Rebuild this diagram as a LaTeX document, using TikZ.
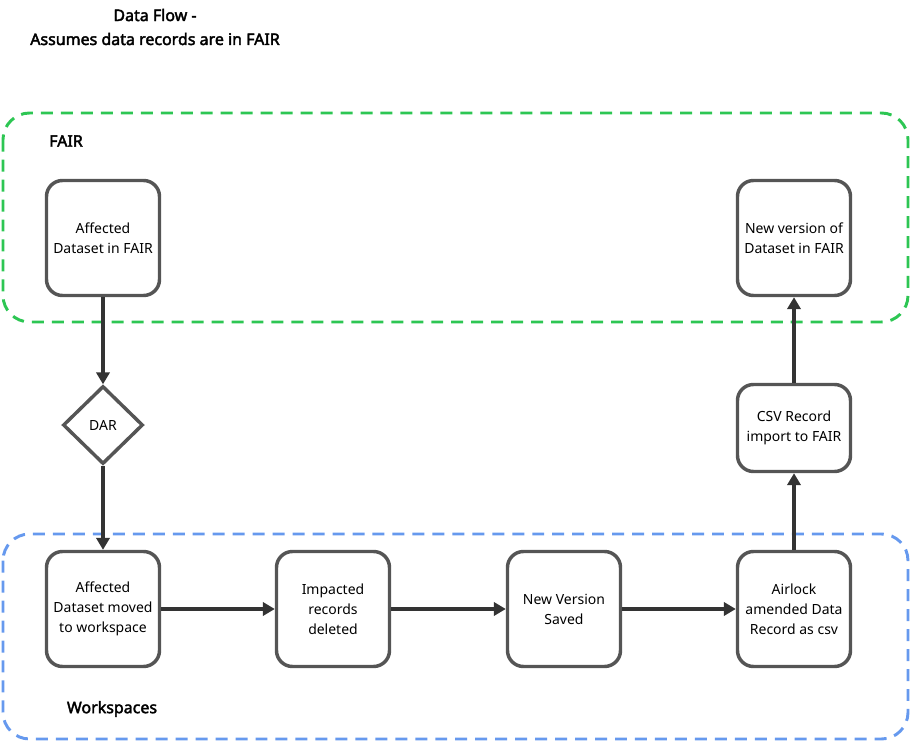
\documentclass[tikz,border=0pt]{standalone}
\usepackage{fontspec}
\setmainfont{Noto Sans}[AutoFakeBold=2.5]
\usetikzlibrary{shapes.geometric,arrows.meta}
\definecolor{boxgray}{HTML}{555555}
\definecolor{fairgreen}{HTML}{2DC653}
\definecolor{wsblue}{HTML}{6699EE}
\tikzset{
  flowstep/.style={draw=boxgray, line width=2.6pt, rounded corners=12pt, align=center,
    minimum width=113*0.0264cm, minimum height=115*0.0264cm, font=\fontsize{10.5}{15}\selectfont},
  flow/.style={-{Triangle[length=9pt,width=10pt]}, draw=black!80, line width=2.4pt},
  group/.style={line width=2.2pt, dash pattern=on 9pt off 6pt, rounded corners=20pt}
}
\begin{document}
\begin{tikzpicture}[x=0.0264cm,y=-0.0264cm]
    \useasboundingbox (0,0) rectangle (911,742);
    % Title
    \node[font=\bfseries\fontsize{12}{18}\selectfont, align=center] (title) at (155,27) {Data Flow -\\Assumes data records are in FAIR};
    
    % Groups
    \draw[group, fairgreen] (3,113) rectangle (908,322);
    \node[font=\bfseries\fontsize{12}{14}\selectfont] (fairlbl) at (66,141) {FAIR};
    \draw[group, wsblue] (3,534) rectangle (908,739);
    \node[font=\bfseries\fontsize{12}{14}\selectfont] (wslbl) at (112,709) {Workspaces};
    
    % FAIR steps
    \node[flowstep] (affected) at (103,238) {Affected\\Dataset in FAIR};
    \node[flowstep] (newfair) at (794,238) {New version of\\Dataset in FAIR};
    
    % DAR and import
    \node[draw=boxgray, line width=2.6pt, diamond, minimum width=80*0.0264cm, minimum height=78*0.0264cm,
      inner sep=0pt, font=\fontsize{10.5}{15}\selectfont] (dar) at (103,425) {DAR};
    \node[flowstep, minimum height=87*0.0264cm] (csv) at (794,428) {CSV Record\\import to FAIR};
    
    % Workspace steps
    \node[flowstep] (moved) at (103,609) {Affected\\Dataset moved\\to workspace};
    \node[flowstep] (deleted) at (333,609) {Impacted\\records\\deleted};
    \node[flowstep] (saved) at (564,609) {New Version\\Saved};
    \node[flowstep] (airlock) at (794,609) {Airlock\\amended Data\\Record as csv};
    
    % Connections
    \draw[flow] (affected) -- (dar);
    \draw[flow] (dar) -- (moved);
    \draw[flow] (moved) -- (deleted);
    \draw[flow] (deleted) -- (saved);
    \draw[flow] (saved) -- (airlock);
    \draw[flow] (airlock) -- (csv);
    \draw[flow] (csv) -- (newfair);
\end{tikzpicture}
\end{document}
